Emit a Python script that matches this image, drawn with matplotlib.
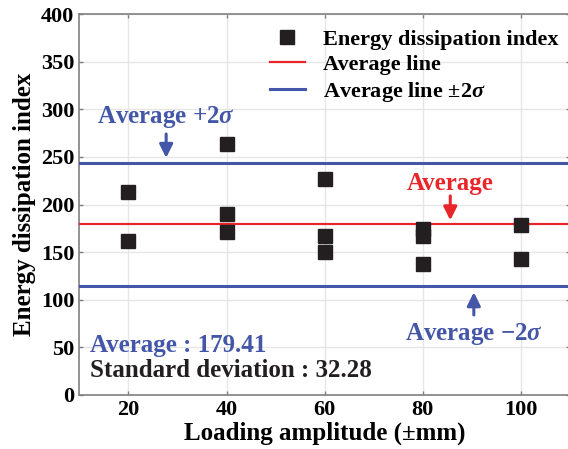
import numpy as np
import matplotlib
matplotlib.use('Agg')
import matplotlib.pyplot as plt

# data
amp_x = [20, 20, 40, 40, 40, 60, 60, 60, 80, 80, 80, 100, 100]
edi_y = [213.4, 161.7, 263.8, 190.0, 171.4, 226.5, 166.9, 150.4,
         173.9, 166.9, 137.5, 178.8, 142.5]
avg = 179.41
std = 32.28
xticks = [20, 40, 60, 80, 100]
yticks = [0, 50, 100, 150, 200, 250, 300, 350, 400]

blue = '#4356A8'
red = '#E8262A'
ink = '#231F20'

plt.rcParams['font.family'] = ['Liberation Serif', 'DejaVu Serif']
plt.rcParams['font.weight'] = 'bold'
plt.rcParams['mathtext.fontset'] = 'custom'
plt.rcParams['mathtext.rm'] = 'Liberation Serif:bold'
plt.rcParams['mathtext.it'] = 'Liberation Serif:italic:bold'
plt.rcParams['mathtext.bf'] = 'Liberation Serif:bold'

fig = plt.figure(figsize=(5.68, 4.49), dpi=100)
ax = fig.add_axes([79.3/568, 54/449, (570-79.3)/568, 381/449])

ax.plot(amp_x, edi_y, 's', color=ink, markersize=9.5, zorder=4,
        label='Energy dissipation index')
ax.axhline(avg, color=red, lw=1.6, zorder=3, label='Average line')
ax.axhline(avg + 2*std, color=blue, lw=2.2, zorder=3,
           label='Average line \u00b12$\\sigma$')
ax.axhline(avg - 2*std, color=blue, lw=2.2, zorder=3)

ax.set_xlim(10, 110)
ax.set_ylim(0, 400)
ax.set_xticks(xticks)
ax.set_yticks(yticks)
ax.tick_params(direction='in', length=3, width=1, labelsize=16,
               top=True, right=True, color='#808080', pad=3.5)
ax.grid(True, color='#e6e6e6', lw=1)
ax.set_axisbelow(True)
for s in ax.spines.values():
    s.set_color('#808080')
    s.set_linewidth(1.2)

ax.set_xlabel('Loading amplitude (\u00b1mm)', fontsize=18, fontweight='bold',
              labelpad=1)
ax.set_ylabel('Energy dissipation index', fontsize=18, fontweight='bold',
              labelpad=4)

# annotations
arr = dict(arrowstyle='-|>', lw=2.2, mutation_scale=20, shrinkA=0, shrinkB=0)
ax.text(27.7, 285.6, 'Average +2$\\sigma$', color=blue, fontsize=18,
        ha='center', va='baseline')
ax.annotate('', xy=(27.7, avg + 2*std + 5), xytext=(27.7, 274),
            arrowprops=dict(arr, color=blue))
ax.text(85.6, 215.2, 'Average', color=red, fontsize=18,
        ha='center', va='baseline')
ax.annotate('', xy=(85.6, avg + 4), xytext=(85.6, 209),
            arrowprops=dict(arr, color=red))
ax.text(90.4, 57.7, 'Average \u22122$\\sigma$', color=blue, fontsize=18,
        ha='center', va='baseline')
ax.annotate('', xy=(90.4, avg - 2*std - 7), xytext=(90.4, 84),
            arrowprops=dict(arr, color=blue))
ax.text(12.2, 45.5, 'Average : %.2f' % avg, color=blue, fontsize=18,
        ha='left', va='baseline')
ax.text(12.2, 19.2, 'Standard deviation : %.2f' % std, color=ink,
        fontsize=18, ha='left', va='baseline')

ax.legend(loc='upper right', bbox_to_anchor=(1.008, 1.0), frameon=False,
          fontsize=16, handlelength=1.6, handletextpad=0.8,
          labelspacing=0.2, borderaxespad=0.3)

fig.savefig('out.png', dpi=100)
